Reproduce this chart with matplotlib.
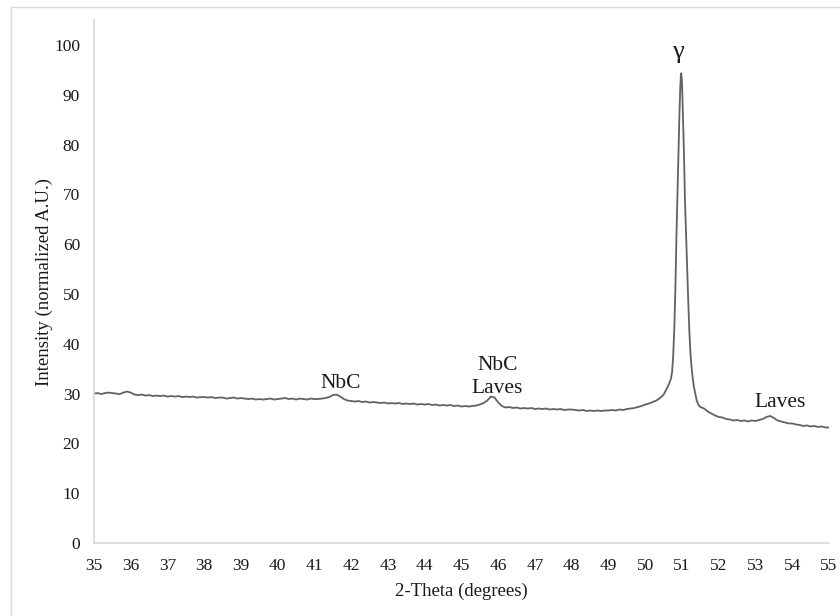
import matplotlib
matplotlib.use("Agg")
import matplotlib.pyplot as plt
from matplotlib.patches import Rectangle

plt.rcParams['font.family'] = ['Liberation Serif', 'DejaVu Serif']

# ---- data ----
two_theta = [
    35.0, 35.1, 35.2, 35.3, 35.4, 35.5, 35.6, 35.7, 35.8, 35.9, 36.0,
    36.1, 36.2, 36.3, 36.4, 36.5, 36.6, 36.7, 36.8, 36.9, 37.0,
    37.1, 37.2, 37.3, 37.4, 37.5, 37.6, 37.7, 37.8, 37.9, 38.0,
    38.1, 38.2, 38.3, 38.4, 38.5, 38.6, 38.7, 38.8, 38.9, 39.0,
    39.1, 39.2, 39.3, 39.4, 39.5, 39.6, 39.7, 39.8, 39.9, 40.0,
    40.1, 40.2, 40.3, 40.4, 40.5, 40.6, 40.7, 40.8, 40.9, 41.0,
    41.1, 41.2, 41.3, 41.4, 41.5, 41.6, 41.7, 41.8, 41.9, 42.0,
    42.1, 42.2, 42.3, 42.4, 42.5, 42.6, 42.7, 42.8, 42.9, 43.0,
    43.1, 43.2, 43.3, 43.4, 43.5, 43.6, 43.7, 43.8, 43.9, 44.0,
    44.1, 44.2, 44.3, 44.4, 44.5, 44.6, 44.7, 44.8, 44.9, 45.0,
    45.1, 45.2, 45.3, 45.4, 45.5, 45.6, 45.7, 45.8, 45.9, 46.0,
    46.1, 46.2, 46.3, 46.4, 46.5, 46.6, 46.7, 46.8, 46.9, 47.0,
    47.1, 47.2, 47.3, 47.4, 47.5, 47.6, 47.7, 47.8, 47.9, 48.0,
    48.1, 48.2, 48.3, 48.4, 48.5, 48.6, 48.7, 48.8, 48.9, 49.0,
    49.1, 49.2, 49.3, 49.4, 49.5, 49.6, 49.7, 49.8, 49.9, 50.0,
    50.1, 50.2, 50.3, 50.4, 50.5, 50.55, 50.6, 50.65, 50.7, 50.73,
    50.76, 50.79, 50.82, 50.85, 50.88, 50.91, 50.93, 50.95, 50.97, 50.98,
    51.0, 51.02, 51.04, 51.06, 51.08, 51.11, 51.14, 51.17, 51.2, 51.23,
    51.27, 51.32, 51.36, 51.4, 51.45, 51.5, 51.6, 51.7, 51.8, 51.9, 52.0,
    52.1, 52.2, 52.3, 52.4, 52.5, 52.6, 52.7, 52.8, 52.9, 53.0,
    53.1, 53.2, 53.3, 53.4, 53.5, 53.6, 53.7, 53.8, 53.9, 54.0,
    54.1, 54.2, 54.3, 54.4, 54.5, 54.6, 54.7, 54.8, 54.9, 55.0,
]
intensity = [
    30.0, 30.1, 29.9, 30.1, 30.2, 30.1, 30.0, 29.9, 30.2, 30.4, 30.2,
    29.8, 29.7, 29.8, 29.6, 29.7, 29.5, 29.6, 29.5, 29.6, 29.4,
    29.5, 29.4, 29.5, 29.3, 29.4, 29.3, 29.4, 29.2, 29.3, 29.3,
    29.2, 29.3, 29.1, 29.2, 29.2, 29.0, 29.1, 29.2, 29.0, 29.1,
    29.0, 28.9, 29.0, 28.8, 28.9, 28.8, 28.9, 29.0, 28.8, 28.9,
    29.0, 29.1, 28.9, 29.0, 28.8, 29.0, 28.9, 28.8, 29.0, 28.9,
    28.9, 29.0, 29.1, 29.3, 29.7, 29.8, 29.4, 28.9, 28.6, 28.5,
    28.4, 28.5, 28.3, 28.4, 28.2, 28.3, 28.2, 28.1, 28.2, 28.0,
    28.1, 28.0, 28.1, 27.9, 28.0, 27.9, 28.0, 27.8, 27.9, 27.8,
    27.9, 27.7, 27.8, 27.6, 27.7, 27.6, 27.7, 27.5, 27.6, 27.4,
    27.5, 27.4, 27.5, 27.6, 27.8, 28.1, 28.6, 29.4, 29.2, 28.2,
    27.5, 27.2, 27.3, 27.1, 27.2, 27.0, 27.1, 27.0, 27.1, 26.9,
    27.0, 26.9, 27.0, 26.8, 26.9, 26.8, 26.9, 26.7, 26.8, 26.8,
    26.7, 26.6, 26.7, 26.5, 26.6, 26.5, 26.6, 26.5, 26.6, 26.6,
    26.7, 26.6, 26.8, 26.7, 26.9, 27.0, 27.1, 27.3, 27.5, 27.8,
    28.0, 28.3, 28.6, 29.1, 29.8, 30.5, 31.2, 32.0, 33.0, 34.3,
    37.5, 43.0, 51.0, 62.0, 71.0, 80.0, 86.0, 91.0, 94.0, 94.3,
    92.5, 87.5, 82.0, 76.0, 69.0, 62.0, 55.0, 48.5, 42.5, 38.0,
    34.5, 31.5, 30.0, 28.6, 27.7, 27.3, 27.0, 26.4, 26.0, 25.6, 25.3,
    25.2, 24.9, 24.8, 24.6, 24.7, 24.5, 24.6, 24.4, 24.6, 24.5,
    24.7, 24.9, 25.3, 25.5, 25.1, 24.6, 24.4, 24.2, 24.0, 24.0,
    23.8, 23.7, 23.5, 23.6, 23.4, 23.5, 23.3, 23.4, 23.2, 23.2,
]
x_ticks = list(range(35, 56))
y_ticks = list(range(0, 101, 10))
peak_labels = [
    ("NbC", 41.71, 31.1, 15.5),
    ("NbC", 45.98, 34.8, 15.5),
    ("Laves", 45.98, 30.2, 15.5),
    ("\u03b3", 50.88, 97.4, 19),
    ("Laves", 53.67, 27.3, 15.5),
]

# ---- figure ----
fig = plt.figure(figsize=(8.4, 6.16), dpi=100)
fig.patches.append(Rectangle((11 / 840, -0.1), 1.2, 1.1 - 7 / 616,
                             transform=fig.transFigure, fill=False,
                             edgecolor='#d9d9d9', linewidth=1.0))
ax = fig.add_axes([94 / 840, 1 - 543 / 616, (829 - 94) / 840, (543 - 20) / 616])

ax.plot(two_theta, intensity, color='#626262', linewidth=1.3)

ax.set_xlim(35, 55)
ax.set_ylim(0, 105)
ax.set_xticks(x_ticks)
ax.set_yticks(y_ticks)
ax.tick_params(axis='both', length=0, labelsize=12.5, labelcolor='#1a1a1a')
ax.tick_params(axis='y', pad=10)
ax.tick_params(axis='x', pad=11)

for s in ('top', 'right'):
    ax.spines[s].set_visible(False)
for s in ('left', 'bottom'):
    ax.spines[s].set_color('#d9d9d9')
    ax.spines[s].set_linewidth(1.2)

ax.set_xlabel('2-Theta (degrees)', fontsize=13.5, color='#1a1a1a', labelpad=6)
ax.set_ylabel('Intensity (normalized A.U.)', fontsize=13.5, color='#1a1a1a', labelpad=1)

for txt, xv, yv, fs in peak_labels:
    ax.text(xv, yv, txt, ha='center', va='baseline', fontsize=fs, color='#1a1a1a')

fig.savefig('out.png', dpi=100)
